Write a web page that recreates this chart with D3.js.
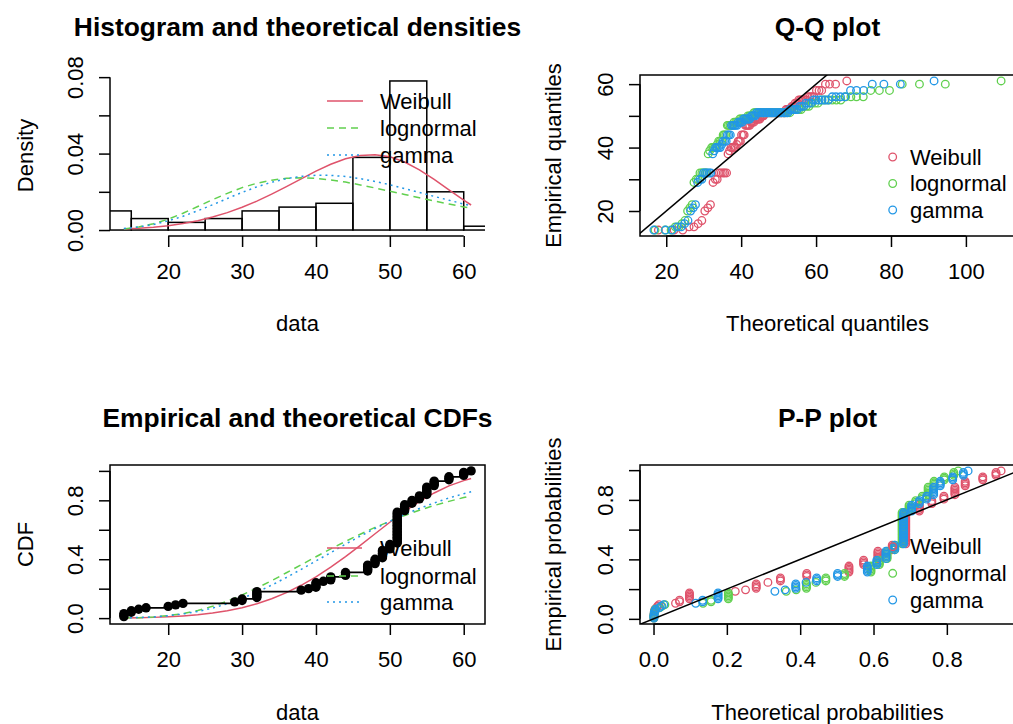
<!DOCTYPE html>
<html><head><meta charset="utf-8">
<script src="https://cdn.jsdelivr.net/npm/d3@7"></script>
<style>body{margin:0;background:#fff} text{font-family:"Liberation Sans",Arial,sans-serif;fill:#000}</style>
</head><body><svg id="c" width="1013" height="724"></svg>
<script>
// ---------- observations (sorted), read from the empirical CDF / histogram ----------
const dataValues = [14,14,14,15,15,16,17,20,21,22,29,30,30,32,32,32,32,32,38,39,
40,40,40,40,41,42,42,42,44,44,44,47,47,47,47,47,48,48,48,48,
49,49,49,49,49,49,50,50,50,50,51,51,51,51,51,51,51,51,51,51,
51,51,51,51,51,51,51,51,51,51,51,51,52,52,52,52,52,53,53,53,
54,54,54,55,55,55,55,55,55,56,56,56,56,58,58,58,60,60,60,61];
const distNames = ["Weibull","lognormal","gamma"];
const distColors = ["#DF536B","#61D04F","#2297E6"];
const distDash = [null,"7,5","2,4"];
const histBreaks = [10,15,20,25,30,35,40,45,50,55,60,65];

// ---------- theoretical density / CDF curves ----------
const curveX = [14,16,18,20,22,24,26,28,30,32,34,36,38,40,42,44,46,48,50,52,54,56,58,60,61];
const densWeibull = [0.0005,0.0009,0.0015,0.0023,0.0034,0.0049,0.0068,0.0091,0.0119,0.0151,0.0188,0.0227,0.0268,0.0308,0.0344,0.0373,0.0390,0.0394,0.0383,0.0356,0.0315,0.0265,0.0210,0.0156,0.0131];
const densLognormal = [0.0006,0.0016,0.0033,0.0057,0.0088,0.0123,0.0159,0.0192,0.0222,0.0245,0.0261,0.0271,0.0273,0.0270,0.0262,0.0251,0.0236,0.0220,0.0203,0.0186,0.0169,0.0152,0.0136,0.0121,0.0114];
const densGamma = [0.0008,0.0016,0.0029,0.0048,0.0072,0.0101,0.0132,0.0165,0.0197,0.0226,0.0250,0.0269,0.0281,0.0287,0.0286,0.0280,0.0269,0.0254,0.0237,0.0217,0.0197,0.0176,0.0156,0.0136,0.0127];
const cdfWeibull = [0.001,0.003,0.005,0.009,0.015,0.023,0.034,0.050,0.071,0.098,0.132,0.173,0.223,0.280,0.346,0.418,0.494,0.573,0.651,0.725,0.792,0.850,0.898,0.934,0.948];
const cdfLognormal = [0.001,0.003,0.008,0.017,0.031,0.052,0.080,0.115,0.157,0.204,0.254,0.308,0.362,0.417,0.470,0.521,0.570,0.616,0.658,0.697,0.733,0.765,0.793,0.819,0.831];
const cdfGamma = [0.001,0.004,0.008,0.016,0.028,0.045,0.068,0.098,0.134,0.176,0.224,0.276,0.331,0.388,0.445,0.502,0.557,0.609,0.658,0.704,0.745,0.782,0.816,0.845,0.858];

// ---------- Q-Q plot: theoretical quantiles, one per observation ----------
const qqWeibull = [17.9,22.1,24.4,26.1,27.4,28.5,29.5,30.3,31.1,31.8,32.5,33.1,33.6,34.2,34.7,35.2,35.6,36.1,36.5,36.9,37.3,37.7,38.1,38.4,38.8,
39.2,39.5,39.8,40.1,40.5,40.8,41.1,41.4,41.7,42.0,42.3,42.6,42.8,43.1,43.4,43.7,43.9,44.2,44.5,44.7,45.0,45.2,45.5,45.8,46.0,
46.3,46.5,46.8,47.0,47.3,47.5,47.8,48.1,48.3,48.6,48.8,49.1,49.3,49.6,49.9,50.1,50.4,50.6,50.9,51.2,51.5,51.7,52.0,52.3,52.6,
52.9,53.2,53.5,53.8,54.1,54.4,54.8,55.1,55.4,55.8,56.2,56.6,57.0,57.4,57.9,58.4,58.9,59.4,60.1,60.8,61.5,62.5,63.6,65.2,68.2];
const qqLognormal = [17.0,19.7,21.3,22.4,23.4,24.2,25.0,25.7,26.3,26.9,27.4,28.0,28.5,29.0,29.5,29.9,30.4,30.8,31.2,31.6,32.1,32.5,32.9,33.2,33.6,
34.0,34.4,34.8,35.2,35.5,35.9,36.3,36.6,37.0,37.4,37.7,38.1,38.5,38.8,39.2,39.6,39.9,40.3,40.7,41.1,41.4,41.8,42.2,42.6,43.0,
43.4,43.7,44.1,44.6,45.0,45.4,45.8,46.2,46.6,47.1,47.5,48.0,48.4,48.9,49.4,49.8,50.3,50.8,51.4,51.9,52.4,53.0,53.6,54.1,54.8,
55.4,56.0,56.7,57.4,58.1,58.9,59.7,60.5,61.4,62.3,63.2,64.3,65.4,66.6,67.9,69.3,70.8,72.6,74.6,76.9,79.6,83.0,87.6,94.5,109.4];
const qqGamma = [16.7,19.8,21.6,22.9,24.0,24.9,25.8,26.5,27.2,27.8,28.4,29.0,29.5,30.0,30.5,31.0,31.5,31.9,32.4,32.8,33.2,33.6,34.0,34.4,34.8,
35.2,35.6,36.0,36.3,36.7,37.1,37.4,37.8,38.1,38.5,38.9,39.2,39.6,39.9,40.3,40.6,40.9,41.3,41.6,42.0,42.3,42.7,43.0,43.4,43.8,
44.1,44.5,44.8,45.2,45.6,45.9,46.3,46.7,47.1,47.4,47.8,48.2,48.6,49.0,49.4,49.9,50.3,50.7,51.2,51.6,52.1,52.5,53.0,53.5,54.0,
54.5,55.0,55.6,56.1,56.7,57.3,58.0,58.6,59.3,60.0,60.8,61.6,62.4,63.3,64.3,65.3,66.5,67.7,69.2,70.8,72.7,75.0,78.1,82.5,91.5];

// ---------- P-P plot: theoretical probabilities per distinct data value ----------
const dataLevels = [14,15,16,17,20,21,22,29,30,32,38,39,40,41,42,44,47,48,49,50,51,52,53,54,55,56,58,60,61];
const ppWeibull = [0.001,0.002,0.003,0.004,0.009,0.011,0.015,0.060,0.071,0.098,0.223,0.251,0.280,0.312,0.346,0.418,0.533,0.573,0.612,0.651,0.688,0.725,0.759,0.792,0.822,0.850,0.898,0.934,0.948];
const ppLognormal = [0.001,0.002,0.003,0.005,0.017,0.023,0.031,0.135,0.157,0.204,0.362,0.389,0.417,0.443,0.470,0.521,0.593,0.616,0.637,0.658,0.678,0.697,0.715,0.733,0.749,0.765,0.793,0.819,0.831];
const ppGamma = [0.001,0.002,0.004,0.006,0.016,0.021,0.028,0.115,0.134,0.176,0.331,0.359,0.388,0.416,0.445,0.502,0.583,0.609,0.634,0.658,0.682,0.704,0.725,0.745,0.764,0.782,0.816,0.845,0.858];

// ---------- ticks ----------
const dataTicks = [20,30,40,50,60];
const densTicks = [0,0.02,0.04,0.06,0.08], densLabels = ["0.00","","0.04","","0.08"];
const probTicks = [0,0.2,0.4,0.6,0.8,1.0], probLabels = ["0.0","","0.4","","0.8",""];
const qqxTicks = [20,40,60,80,100], qqyTicks = [20,30,40,50,60], qqyLabels = ["20","","40","","60"];
const ppxTicks = [0,0.2,0.4,0.6,0.8], ppxLabels = ["0.0","0.2","0.4","0.6","0.8"];

const densCurves = [densWeibull,densLognormal,densGamma];
const cdfCurves = [cdfWeibull,cdfLognormal,cdfGamma];
const qqSeries = [qqWeibull,qqLognormal,qqGamma];
const ppSeries = [ppWeibull,ppLognormal,ppGamma];
const n = dataValues.length;
const empProb = dataValues.map((v,i)=>(i+0.5)/n);

// ---------- drawing ----------
const svg = d3.select("#c");
svg.append("rect").attr("width",1013).attr("height",724).attr("fill","#fff");
const FS = 22, TFS = 26.4, PR = 3.8;
const ext4 = e=>{const r=e[1]-e[0];return [e[0]-0.04*r,e[1]+0.04*r];};
const L={x0:110,x1:485}, R={x0:640,x1:1015}, T={y0:75,y1:236}, B={y0:465,y1:624};
const defs = svg.append("defs");
function clip(id,X,Y){defs.append("clipPath").attr("id",id).append("rect").attr("x",X.x0).attr("y",Y.y0).attr("width",X.x1-X.x0).attr("height",Y.y1-Y.y0);return `url(#${id})`;}
function xAxis(scale,ticks,labels,y){
 const g=svg.append("g").attr("transform",`translate(0,${y})`).call(d3.axisBottom(scale).tickValues(ticks).tickSize(11).tickSizeOuter(0).tickFormat((d,i)=>labels[i]));
 g.select(".domain").attr("d",`M${scale(ticks[0])},0H${scale(ticks[ticks.length-1])}`);
 g.selectAll("line,path").attr("stroke","#000").attr("stroke-width",1.5);
 g.selectAll("text").attr("font-size",FS).attr("font-family","Liberation Sans, Arial, sans-serif").attr("y",35).attr("dy","0.35em").attr("fill","#000");
}
function yAxis(scale,ticks,labels,x){
 const g=svg.append("g").attr("transform",`translate(${x},0)`).call(d3.axisLeft(scale).tickValues(ticks).tickSize(11).tickSizeOuter(0).tickFormat((d,i)=>labels[i]));
 g.select(".domain").attr("d",`M0,${scale(ticks[0])}V${scale(ticks[ticks.length-1])}`);
 g.selectAll("line,path").attr("stroke","#000").attr("stroke-width",1.5);
 g.selectAll(".tick text").attr("font-size",FS).attr("font-family","Liberation Sans, Arial, sans-serif").attr("x",null).attr("dy","0.35em").attr("text-anchor","middle").attr("transform","translate(-35,0) rotate(-90)").attr("fill","#000");
}
function label(txt,x,y,rot,bold){const t=svg.append("text").text(txt).attr("text-anchor","middle").attr("dy","0.35em").attr("font-size",bold?TFS:FS).attr("font-weight",bold?"bold":null);
 if(rot)t.attr("transform",`translate(${x},${y}) rotate(-90)`);else t.attr("x",x).attr("y",y);}
function box(X,Y){svg.append("rect").attr("x",X.x0).attr("y",Y.y0).attr("width",X.x1-X.x0).attr("height",Y.y1-Y.y0).attr("fill","none").attr("stroke","#000").attr("stroke-width",1.5);}
function lineLegend(x0,x1,tx,ys){distNames.forEach((nm,i)=>{svg.append("line").attr("x1",x0).attr("x2",x1).attr("y1",ys[i]).attr("y2",ys[i]).attr("stroke",distColors[i]).attr("stroke-width",1.5).attr("stroke-dasharray",distDash[i]);
 svg.append("text").text(nm).attr("x",tx).attr("y",ys[i]).attr("dy","0.35em").attr("font-size",FS);});}
function ptLegend(cx,tx,ys){distNames.forEach((nm,i)=>{svg.append("circle").attr("cx",cx).attr("cy",ys[i]).attr("r",PR).attr("fill","none").attr("stroke",distColors[i]).attr("stroke-width",1.3);
 svg.append("text").text(nm).attr("x",tx).attr("y",ys[i]).attr("dy","0.35em").attr("font-size",FS);});}

// Panel 1: histogram + densities
const xD=d3.scaleLinear().domain(ext4(d3.extent(dataValues))).range([L.x0,L.x1]);
const counts=histBreaks.slice(1).map((b,i)=>dataValues.filter(v=>(i===0?v>=histBreaks[i]:v>histBreaks[i])&&v<=b).length);
const dens=counts.map(c=>c/(n*(histBreaks[1]-histBreaks[0])));
const yDen=d3.scaleLinear().domain(ext4([0,d3.max(dens)])).range([T.y1,T.y0]);
const c1=clip("c1",L,T);
svg.append("g").attr("clip-path",c1).selectAll("rect").data(dens).join("rect")
 .attr("x",(d,i)=>xD(histBreaks[i])).attr("width",(d,i)=>xD(histBreaks[i+1])-xD(histBreaks[i]))
 .attr("y",d=>yDen(d)).attr("height",d=>yDen(0)-yDen(d)).attr("fill","none").attr("stroke","#000").attr("stroke-width",1.5);
densCurves.forEach((arr,i)=>svg.append("path").attr("clip-path",c1).attr("d",d3.line().x((v,j)=>xD(curveX[j])).y(v=>yDen(v))(arr)).attr("fill","none").attr("stroke",distColors[i]).attr("stroke-width",1.5).attr("stroke-dasharray",distDash[i]));
xAxis(xD,dataTicks,dataTicks.map(String),T.y1);
yAxis(yDen,densTicks,densLabels,L.x0);
lineLegend(327,363,380,[101,128,155]);
label("Histogram and theoretical densities",(L.x0+L.x1)/2,27,false,true);
label("data",(L.x0+L.x1)/2,323);
label("Density",25,(T.y0+T.y1)/2,true);

// Panel 2: Q-Q plot
const xQ=d3.scaleLinear().domain(ext4(d3.extent(qqSeries.flat()))).range([R.x0,R.x1]);
const yQ=d3.scaleLinear().domain(ext4(d3.extent(dataValues))).range([T.y1,T.y0]);
const c2=clip("c2",R,T);
const g2=svg.append("g").attr("clip-path",c2);
qqSeries.forEach((arr,i)=>g2.append("g").selectAll("circle").data(arr).join("circle").attr("cx",d=>xQ(d)).attr("cy",(d,j)=>yQ(dataValues[j])).attr("r",PR).attr("fill","none").attr("stroke",distColors[i]).attr("stroke-width",1.3));
g2.append("line").attr("x1",xQ(0)).attr("y1",yQ(0)).attr("x2",xQ(200)).attr("y2",yQ(200)).attr("stroke","#000").attr("stroke-width",1.5);
box(R,T);
xAxis(xQ,qqxTicks,qqxTicks.map(String),T.y1);
yAxis(yQ,qqyTicks,qqyLabels,R.x0);
ptLegend(892.7,910,[157,183.5,210]);
label("Q-Q plot",(R.x0+R.x1)/2,27,false,true);
label("Theoretical quantiles",(R.x0+R.x1)/2,323);
label("Empirical quantiles",553,(T.y0+T.y1)/2,true);

// Panel 3: CDFs
const yC=d3.scaleLinear().domain(ext4([0,1])).range([B.y1,B.y0]);
const c3=clip("c3",L,B);
const g3=svg.append("g").attr("clip-path",c3);
cdfCurves.forEach((arr,i)=>g3.append("path").attr("d",d3.line().x((v,j)=>xD(curveX[j])).y(v=>yC(v))(arr)).attr("fill","none").attr("stroke",distColors[i]).attr("stroke-width",1.5).attr("stroke-dasharray",distDash[i]));
lineLegend(327,362,380,[548,576,602]);
g3.append("path").attr("d",d3.line().curve(d3.curveStepAfter).x(v=>xD(v)).y((v,i)=>yC((i+1)/n))(dataValues)).attr("fill","none").attr("stroke","#000").attr("stroke-width",1.8);
g3.append("g").selectAll("circle").data(dataValues).join("circle").attr("cx",d=>xD(d)).attr("cy",(d,i)=>yC((i+1)/n)).attr("r",4.7).attr("fill","#000");
box(L,B);
xAxis(xD,dataTicks,dataTicks.map(String),B.y1);
yAxis(yC,probTicks,probLabels,L.x0);
label("Empirical and theoretical CDFs",(L.x0+L.x1)/2,418,false,true);
label("data",(L.x0+L.x1)/2,712);
label("CDF",25,(B.y0+B.y1)/2,true);

// Panel 4: P-P plot
const ppPoints=ppSeries.map(arr=>dataValues.map(v=>arr[dataLevels.indexOf(v)]));
const xP=d3.scaleLinear().domain(ext4(d3.extent(ppSeries.flat()))).range([R.x0,R.x1]);
const yP=d3.scaleLinear().domain(ext4(d3.extent(empProb))).range([B.y1,B.y0]);
const c4=clip("c4",R,B);
const g4=svg.append("g").attr("clip-path",c4);
ppPoints.forEach((arr,i)=>g4.append("g").selectAll("circle").data(arr).join("circle").attr("cx",d=>xP(d)).attr("cy",(d,j)=>yP(empProb[j])).attr("r",PR).attr("fill","none").attr("stroke",distColors[i]).attr("stroke-width",1.3));
g4.append("line").attr("x1",xP(-1)).attr("y1",yP(-1)).attr("x2",xP(2)).attr("y2",yP(2)).attr("stroke","#000").attr("stroke-width",1.5);
box(R,B);
xAxis(xP,ppxTicks,ppxLabels,B.y1);
yAxis(yP,probTicks,probLabels,R.x0);
ptLegend(892.7,910,[546.7,573.3,600]);
label("P-P plot",(R.x0+R.x1)/2,418,false,true);
label("Theoretical probabilities",(R.x0+R.x1)/2,712);
label("Empirical probabilities",553,(B.y0+B.y1)/2,true);
</script></body></html>
